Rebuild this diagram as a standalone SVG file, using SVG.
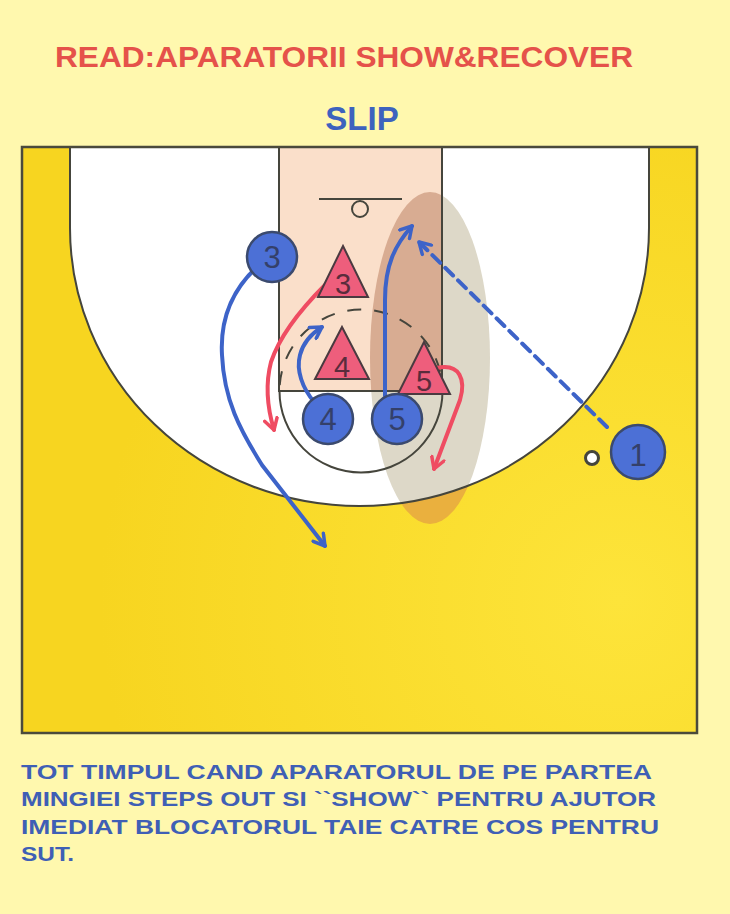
<svg xmlns="http://www.w3.org/2000/svg" width="730" height="914" viewBox="0 0 730 914">
<style>
.line{fill:none;stroke:#45453c;stroke-width:2}
.player circle{fill:#4c70d6;stroke:#3b4a6e;stroke-width:2.5}
.player text{font-family:"Liberation Sans",Arial,sans-serif;font-size:31px;fill:#34406a;text-anchor:middle}
.def polygon{fill:#ee5e7c;stroke:#4a3a40;stroke-width:2;stroke-linejoin:miter}
.def text{font-family:"Liberation Sans",Arial,sans-serif;font-size:29px;fill:#5a2c3c;text-anchor:middle}
.blue{fill:none;stroke:#3d63c8;stroke-width:4;stroke-linecap:round}
.red{fill:none;stroke:#ef4c62;stroke-width:4;stroke-linecap:round}
.note{font-family:"Liberation Sans",Arial,sans-serif;font-weight:bold;font-size:21px;fill:#3f5fb5}
</style>
<defs>
<clipPath id="clip3"><path d="M70,147 L70,228 A289.5,278 0 0 0 649,228 L649,147 Z"/></clipPath>
<clipPath id="clipLane"><rect x="279" y="147" width="163" height="244"/></clipPath>
<radialGradient id="court" cx="620" cy="600" r="520" gradientUnits="userSpaceOnUse">
<stop offset="0" stop-color="#fde43a"/><stop offset="1" stop-color="#f7d520"/>
</radialGradient>
<marker id="ab" viewBox="0 0 16 16" refX="13" refY="8" markerWidth="16" markerHeight="16" markerUnits="userSpaceOnUse" orient="auto">
<path d="M2,1.5 L13,8 L2,14.5" fill="none" stroke="#3d63c8" stroke-width="3.5" stroke-linecap="round" stroke-linejoin="round"/>
</marker>
<marker id="ar" viewBox="0 0 16 16" refX="13" refY="8" markerWidth="16" markerHeight="16" markerUnits="userSpaceOnUse" orient="auto">
<path d="M2,1.5 L13,8 L2,14.5" fill="none" stroke="#ef4c62" stroke-width="3.5" stroke-linecap="round" stroke-linejoin="round"/>
</marker>
</defs>

<rect x="0" y="0" width="730" height="914" fill="#fff8ae"/>

<g id="court-area">
<rect x="22" y="147" width="675" height="586" fill="url(#court)"/>
<ellipse cx="430" cy="358" rx="60" ry="166" fill="#eab03e"/>
<path d="M70,147 L70,228 A289.5,278 0 0 0 649,228 L649,147 Z" fill="#ffffff"/>
<ellipse cx="430" cy="358" rx="60" ry="166" fill="#ddd8c8" clip-path="url(#clip3)"/>
<rect x="279" y="147" width="163" height="244" fill="#fadfca"/>
<ellipse cx="430" cy="358" rx="60" ry="166" fill="#d8ac92" clip-path="url(#clipLane)"/>
<path class="line" d="M70,147 L70,228 A289.5,278 0 0 0 649,228 L649,147"/>
<path class="line" d="M279,147 L279,391 L442,391 L442,147"/>
<path class="line" d="M279.5,391 A81.5,81.5 0 0 0 442.5,391"/>
<path class="line" d="M279.5,391 A81.5,81.5 0 0 1 442.5,391" stroke-dasharray="14 13" stroke-dashoffset="-6"/>
<line class="line" x1="319" y1="199" x2="402" y2="199"/>
<circle class="line" cx="360" cy="209" r="8"/>
<circle cx="592" cy="458" r="6.5" fill="#ffffff" stroke="#45453c" stroke-width="3"/>
<rect x="22" y="147" width="675" height="586" fill="none" stroke="#4a4a3c" stroke-width="2.5"/>
</g>

<g id="connectors">
<path class="blue" d="M257,267 C232,290 220,320 222,355 C224,400 240,430 262,465 L325,546" marker-end="url(#ab)"/>
<path class="red" d="M325,285 C300,310 280,335 271,362 C265,385 268,410 274,430" marker-end="url(#ar)"/>
<path class="blue" d="M315,403 C302,388 296,370 300,355 C303,343 311,334 322,327" marker-end="url(#ab)"/>
<path class="blue" d="M385,396 L385,300 C385,265 395,245 412,226" marker-end="url(#ab)"/>
<path class="red" d="M437,368 C460,363 466,380 460,400 L434,469" marker-end="url(#ar)"/>
<path class="blue" d="M607,427 L419,242" stroke-dasharray="11 7" stroke-width="4.5" stroke-linecap="butt" marker-end="url(#ab)"/>
</g>

<g id="def3" class="def"><polygon points="343,246 368,297 318,297"/><text x="343" y="294" font-size="27">3</text></g>
<g id="def4" class="def"><polygon points="342,327 369,379 315,379"/><text x="342" y="377">4</text></g>
<g id="def5" class="def"><polygon points="424,342 450,394 398,394"/><text x="424" y="391">5</text></g>

<g id="p3" class="player"><circle cx="272" cy="257" r="25"/><text x="272" y="268">3</text></g>
<g id="p4" class="player"><circle cx="328" cy="419" r="25"/><text x="328" y="430">4</text></g>
<g id="p5" class="player"><circle cx="397" cy="419" r="25"/><text x="397" y="430">5</text></g>
<g id="p1" class="player"><circle cx="638" cy="452" r="27"/><text x="638" y="466" font-size="32">1</text></g>

<g id="titles">
<text x="55" y="67" font-family="'Liberation Sans',Arial,sans-serif" font-weight="bold" font-size="29" fill="#e5524a" textLength="578" lengthAdjust="spacingAndGlyphs">READ:APARATORII SHOW&amp;RECOVER</text>
<text x="362" y="130" font-family="'Liberation Sans',Arial,sans-serif" font-weight="bold" font-size="33" fill="#3d62be" text-anchor="middle">SLIP</text>
</g>

<g id="notes">
<text class="note" x="21" y="779" textLength="631" lengthAdjust="spacingAndGlyphs">TOT TIMPUL CAND APARATORUL DE PE PARTEA</text>
<text class="note" x="21" y="806" textLength="635" lengthAdjust="spacingAndGlyphs">MINGIEI STEPS OUT SI ``SHOW`` PENTRU AJUTOR</text>
<text class="note" x="21" y="834" textLength="638" lengthAdjust="spacingAndGlyphs">IMEDIAT BLOCATORUL TAIE CATRE COS PENTRU</text>
<text class="note" x="21" y="861" textLength="53" lengthAdjust="spacingAndGlyphs">SUT.</text>
</g>
</svg>
